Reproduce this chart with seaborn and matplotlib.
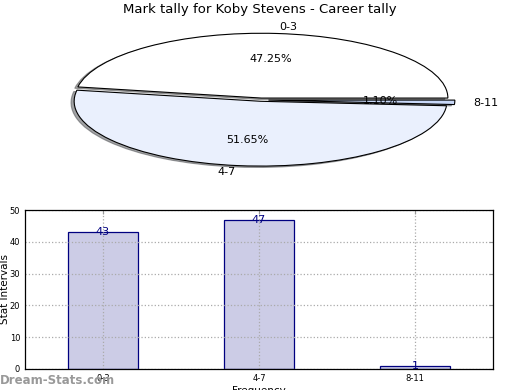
import matplotlib
matplotlib.use("Agg")
import matplotlib.pyplot as plt
import seaborn as sns
import pandas as pd

# data
INTERVALS = ["0-3", "4-7", "8-11"]
COUNTS = [43, 47, 1]
PIE_COLORS = ["#ffffff", "#eaf0fd", "#c8d8f8"]
EXPLODE = [0.03, 0.02, 0.04]

sns.set_style("white")
plt.rcParams["font.family"] = ["DejaVu Sans"]
plt.rcParams["text.color"] = "black"
plt.rcParams["axes.labelcolor"] = "black"
plt.rcParams["xtick.labelcolor"] = "black"
plt.rcParams["ytick.labelcolor"] = "black"

fig = plt.figure(figsize=(5.2, 3.9), dpi=100)

# pie (squashed into a wide axes)
ax_pie = fig.add_axes([28 / 520, 1 - 181 / 390, 466 / 520, 162 / 390])
wedges, texts, autotexts = ax_pie.pie(
    COUNTS, labels=INTERVALS, colors=PIE_COLORS, explode=EXPLODE,
    autopct="%.2f%%", pctdistance=0.6, labeldistance=1.1,
    shadow={"ox": -0.012, "oy": -0.015},
    startangle=0, wedgeprops={"edgecolor": "black", "linewidth": 0.8},
    textprops={"fontsize": 8, "color": "black"},
)
ax_pie.set_aspect("auto")
ax_pie.set_xlim(-1.25, 1.25)
ax_pie.set_ylim(-1.25, 1.25)
fig.text(0.5, 1 - 10 / 390, "Mark tally for Koby Stevens - Career tally",
         ha="center", va="center", fontsize=9.5)

# bar chart
df = pd.DataFrame({"interval": INTERVALS, "count": COUNTS})
ax = fig.add_axes([25 / 520, 1 - 369 / 390, 468 / 520, 159 / 390])
sns.barplot(data=df, x="interval", y="count", ax=ax, width=0.45,
            color="#ccccE6", saturation=1, edgecolor="navy", linewidth=0.9)
for i, v in enumerate(COUNTS):
    ax.text(i, v, str(v), ha="center", va="center", color="navy", fontsize=8)

ax.set_xlim(-0.5, 2.5)
ax.set_ylim(0, 50)
ax.set_yticks(range(0, 51, 10))
ax.set_axisbelow(False)
ax.grid(True, linestyle=":", color="#aaaaaa", linewidth=0.9)
ax.tick_params(axis="both", direction="in", labelsize=6, length=3,
               top=True, right=True, color="#999999")
for s in ax.spines.values():
    s.set_color("black")
    s.set_linewidth(0.9)
    s.set_zorder(5)
ax.set_ylabel("")
fig.text(5 / 520, 1 - 289 / 390, "Stat Intervals", rotation=90,
         ha="center", va="center", fontsize=7.5)
ax.set_xlabel("Frequency", fontsize=7.5, labelpad=2)

fig.text(0.0, 1 - 380 / 390, "Dream-Stats.com", ha="left", va="center",
         fontsize=8.5, color="#999999", fontweight="bold")

fig.savefig("out.png", dpi=100)
